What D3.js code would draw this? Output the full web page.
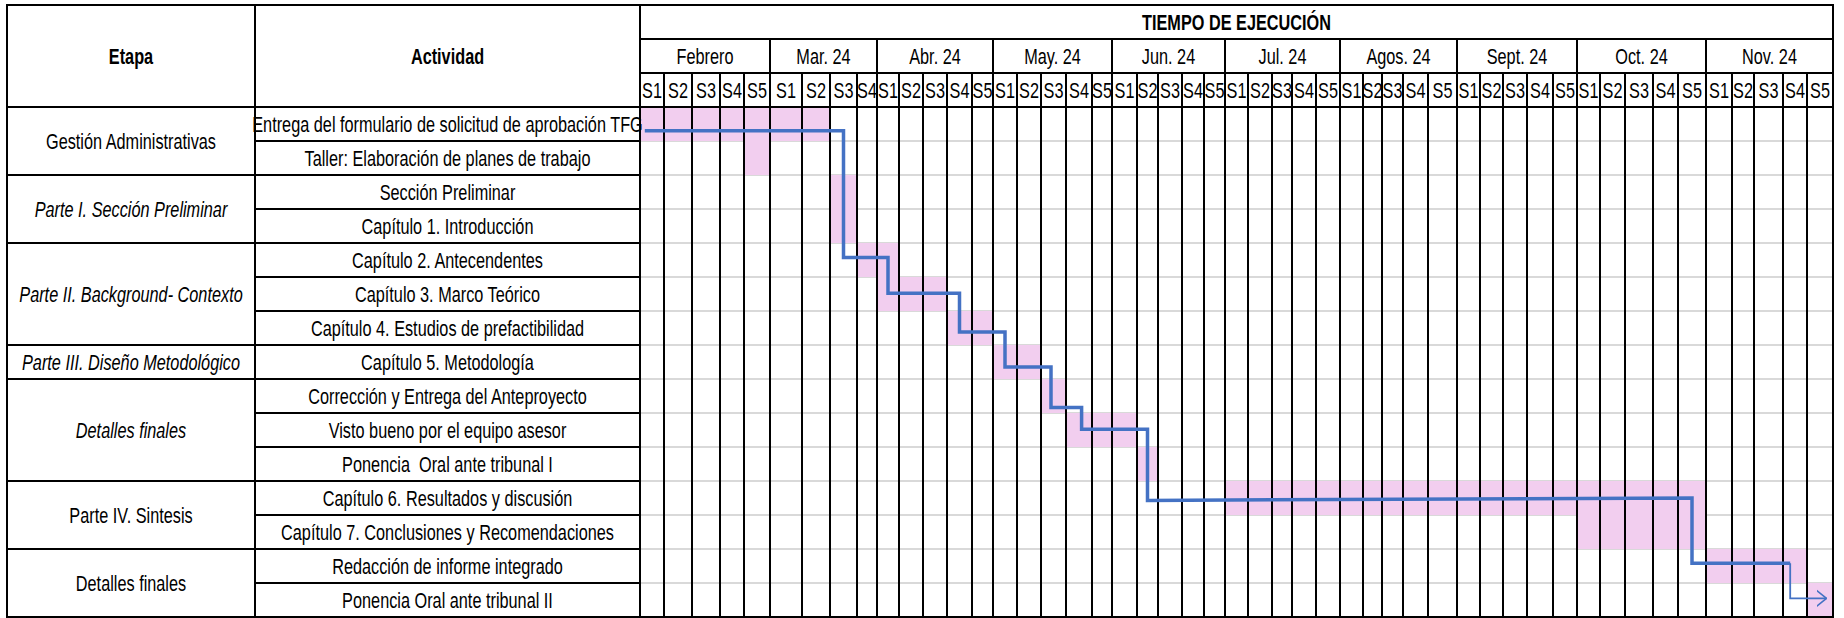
<!DOCTYPE html>
<meta charset="utf-8">
<style>
body { margin: 0; background: #fff; }
svg { font-family: "Liberation Sans", Arial, sans-serif; font-size: 22px; }
.head { font-weight: bold; }
.grid { stroke: #d9d9d9; stroke-width: 2; }
.rule { stroke: #000; stroke-width: 2; }
.bar { fill: #f2ceef; }
.ruta { fill: none; stroke: #4472c4; stroke-linejoin: miter; }
</style>
<body>
<script src="https://cdn.jsdelivr.net/npm/d3@7"></script>
<script>

// --- data ---
var months = ["Febrero", "Mar. 24", "Abr. 24", "May. 24", "Jun. 24", "Jul. 24", "Agos. 24", "Sept. 24", "Oct. 24", "Nov. 24"];
var weeksPerMonth = [5, 4, 5, 5, 5, 5, 5, 5, 5, 5];

var etapas = ["Gestión Administrativas", "Parte I. Sección Preliminar", "Parte II. Background- Contexto",
  "Parte III. Diseño Metodológico", "Detalles finales", "Parte IV. Sintesis", "Detalles finales"];
var etapaRows = [2, 2, 3, 1, 3, 2, 2];
var etapaItalic = [false, true, true, true, true, false, false];

var actividades = [
  "Entrega del formulario de solicitud de aprobación TFG",
  "Taller: Elaboración de planes de trabajo",
  "Sección Preliminar",
  "Capítulo 1. Introducción",
  "Capítulo 2. Antecendentes",
  "Capítulo 3. Marco Teórico",
  "Capítulo 4. Estudios de prefactibilidad",
  "Capítulo 5. Metodología",
  "Corrección y Entrega del Anteproyecto",
  "Visto bueno por el equipo asesor",
  "Ponencia  Oral ante tribunal I",
  "Capítulo 6. Resultados y discusión",
  "Capítulo 7. Conclusiones y Recomendaciones",
  "Redacción de informe integrado",
  "Ponencia Oral ante tribunal II"
];
// first and last week (0 = Febrero S1) of each activity
var inicio = [0, 4, 7, 7, 8, 9, 12, 14, 16, 17, 20, 24, 39, 44, 48];
var fin    = [6, 4, 7, 7, 9, 11, 13, 15, 16, 19, 20, 43, 43, 47, 48];

// blue connector: week position, row position
var rutaSemana = [0.2, 7.5, 7.5, 9.5, 9.5, 12.5, 12.5, 14.5, 14.5, 16.4, 16.4, 17.6, 17.6, 20.5, 20.5, 43.5, 43.5, 47.3];
var rutaFila   = [0.7, 0.7, 4.43, 4.43, 5.48, 5.48, 6.62, 6.62, 7.65, 7.65, 8.84, 8.84, 9.48, 9.48, 11.57, 11.5, 13.42, 13.42];
var flechaSemana = [47.3, 47.3, 48.75];
var flechaFila   = [13.42, 14.45, 14.45];

// --- layout ---
var width = 1844, height = 618;
var left = 7, colAct = 255, colTime = 640, right = 1833;
var topY = 5, rowTiempo = 39, rowMes = 73, rowSem = 107, bottom = 617;
var narrow = 0.74; // squeeze text to look like a narrow font
// Excel column edges of the week columns
var colEdges = [640, 664, 692, 720, 744, 770, 802, 830, 857, 877, 899, 923, 947, 972, 993,
  1017, 1041, 1066, 1092, 1112, 1137, 1158, 1182, 1204, 1225, 1248, 1272, 1292, 1316, 1340,
  1363, 1382, 1403, 1428, 1457, 1480, 1503, 1527, 1553, 1577, 1600, 1625, 1653, 1678, 1706,
  1732, 1754, 1783, 1807, 1833];

var nWeeks = d3.sum(weeksPerMonth);
var x = d3.scaleLinear().domain(d3.range(nWeeks + 1)).range(colEdges);
var y = d3.scaleLinear().domain([0, actividades.length]).range([rowSem, bottom]);

var svg = d3.select("body").append("svg")
    .attr("width", width)
    .attr("height", height);

svg.append("rect").attr("width", width).attr("height", height).attr("fill", "#fff");

function place(sel, fx, fy) {
  sel.attr("x", 0).attr("y", 0).attr("dy", "0.36em")
    .attr("text-anchor", "middle")
    .attr("transform", function(d, i) {
      return "translate(" + fx(d, i) + "," + fy(d, i) + ") scale(" + narrow + ",1)";
    });
}

// light row lines in the time grid
svg.append("g").selectAll("line")
  .data(d3.range(1, actividades.length))
  .enter().append("line")
    .attr("class", "grid")
    .attr("x1", colTime).attr("x2", right)
    .attr("y1", function(d) { return y(d); })
    .attr("y2", function(d) { return y(d); });

// pink bars
svg.append("g").selectAll("rect")
  .data(actividades)
  .enter().append("rect")
    .attr("class", "bar")
    .attr("x", function(d, i) { return x(inicio[i]); })
    .attr("width", function(d, i) { return x(fin[i] + 1) - x(inicio[i]); })
    .attr("y", function(d, i) { return y(i); })
    .attr("height", function(d, i) { return y(i + 1) - y(i); });

// month start indices
var monthStart = [0];
weeksPerMonth.forEach(function(n, i) { monthStart.push(monthStart[i] + n); });

// week column lines
svg.append("g").selectAll("line")
  .data(d3.range(1, nWeeks))
  .enter().append("line")
    .attr("class", "rule")
    .attr("x1", function(d) { return x(d); })
    .attr("x2", function(d) { return x(d); })
    .attr("y1", function(d) { return monthStart.indexOf(d) >= 0 ? rowTiempo : rowMes; })
    .attr("y2", bottom);

// black lines in the activity column
svg.append("g").selectAll("line")
  .data(d3.range(1, actividades.length))
  .enter().append("line")
    .attr("class", "rule")
    .attr("x1", colAct).attr("x2", colTime)
    .attr("y1", function(d) { return y(d); })
    .attr("y2", function(d) { return y(d); });

// group boundaries
var groupStart = [0];
etapaRows.forEach(function(n, i) { groupStart.push(groupStart[i] + n); });

svg.append("g").selectAll("line")
  .data(groupStart.slice(1, -1))
  .enter().append("line")
    .attr("class", "rule")
    .attr("x1", left).attr("x2", colTime)
    .attr("y1", function(d) { return y(d); })
    .attr("y2", function(d) { return y(d); });

// header rules and frame
var g = svg.append("g");
[[colTime, rowTiempo, right, rowTiempo], [colTime, rowMes, right, rowMes], [left, rowSem, right, rowSem],
 [colAct, topY, colAct, bottom], [colTime, topY, colTime, bottom]].forEach(function(l) {
  g.append("line").attr("class", "rule")
    .attr("x1", l[0]).attr("y1", l[1]).attr("x2", l[2]).attr("y2", l[3]);
});
g.append("rect")
    .attr("x", left).attr("y", topY)
    .attr("width", right - left).attr("height", bottom - topY)
    .attr("fill", "none").attr("stroke", "#000").attr("stroke-width", 2);

// header text
var heads = [
  ["Etapa", (left + colAct) / 2, (topY + rowSem) / 2],
  ["Actividad", (colAct + colTime) / 2, (topY + rowSem) / 2],
  ["TIEMPO DE EJECUCIÓN", (colTime + right) / 2, (topY + rowTiempo) / 2]
];
svg.append("g").selectAll("text")
  .data(heads)
  .enter().append("text")
    .attr("class", "head")
    .call(place, function(d) { return d[1]; }, function(d) { return d[2]; })
    .text(function(d) { return d[0]; });

svg.append("g").selectAll("text")
  .data(months)
  .enter().append("text")
    .call(place,
      function(d, i) { return (x(monthStart[i]) + x(monthStart[i + 1])) / 2; },
      function() { return (rowTiempo + rowMes) / 2; })
    .text(function(d) { return d; });

var weekLabels = [];
weeksPerMonth.forEach(function(n) { d3.range(n).forEach(function(k) { weekLabels.push("S" + (k + 1)); }); });

svg.append("g").selectAll("text")
  .data(weekLabels)
  .enter().append("text")
    .call(place,
      function(d, i) { return (x(i) + x(i + 1)) / 2; },
      function() { return (rowMes + rowSem) / 2; })
    .text(function(d) { return d; });

// etapa labels
svg.append("g").selectAll("text")
  .data(etapas)
  .enter().append("text")
    .call(place,
      function() { return (left + colAct) / 2; },
      function(d, i) { return (y(groupStart[i]) + y(groupStart[i + 1])) / 2; })
    .attr("font-style", function(d, i) { return etapaItalic[i] ? "italic" : "normal"; })
    .text(function(d) { return d; });

// activity labels
svg.append("g").selectAll("text")
  .data(actividades)
  .enter().append("text")
    .call(place,
      function() { return (colAct + colTime) / 2; },
      function(d, i) { return (y(i) + y(i + 1)) / 2; })
    .style("white-space", "pre")
    .text(function(d) { return d; });

// connector
var line = d3.line()
    .x(function(d) { return x(d[0]); })
    .y(function(d) { return y(d[1]); });

svg.append("path")
    .datum(d3.zip(rutaSemana, rutaFila))
    .attr("class", "ruta")
    .attr("stroke-width", 3.5)
    .attr("d", line);

svg.append("defs").append("marker")
    .attr("id", "flecha")
    .attr("viewBox", "0 0 10 20")
    .attr("refX", 10).attr("refY", 10)
    .attr("markerWidth", 10).attr("markerHeight", 20)
    .attr("markerUnits", "userSpaceOnUse")
    .attr("orient", "auto")
  .append("path")
    .attr("d", "M0,2L10,10L0,18")
    .attr("fill", "none")
    .attr("stroke", "#4472c4")
    .attr("stroke-width", 1.6);

svg.append("path")
    .datum(d3.zip(flechaSemana, flechaFila))
    .attr("class", "ruta")
    .attr("stroke-width", 1.8)
    .attr("marker-end", "url(#flecha)")
    .attr("d", line);

</script>
</body>
